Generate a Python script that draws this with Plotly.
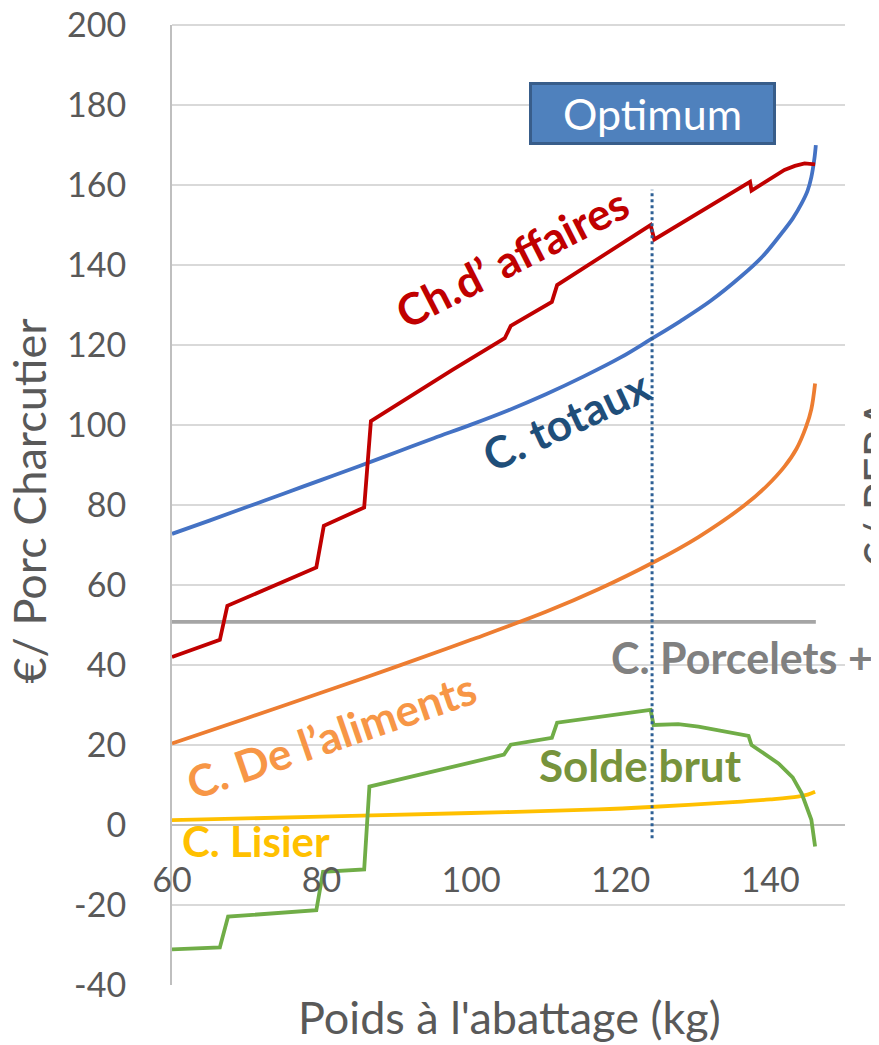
import plotly.graph_objects as go

# Chiffre d'affaires (€/porc)
x_ca = [60, 66.4, 67.4, 79.3, 80.3, 85.7, 86.6, 97.5, 104.5, 105.3, 110.8, 111.5,
        124.0, 124.5, 137.3, 137.5, 141.9, 143.3, 144.6, 146.0]
y_ca = [42.0, 46.3, 54.8, 64.4, 74.8, 79.4, 101.0, 113.8, 121.7, 124.8, 130.8, 135.0,
        150.0, 146.4, 160.8, 158.6, 163.8, 164.8, 165.4, 165.2]

# Coûts totaux
x_ct = [60, 65, 70, 75, 80, 85, 90, 95, 100, 105, 110, 115, 120, 124, 128, 132,
        136, 139, 141.5, 143, 144.2, 145, 145.5, 145.9, 146.1]
y_ct = [72.8, 76.1, 79.5, 82.9, 86.3, 89.7, 93.2, 96.7, 100.1, 103.7, 107.7, 112.1,
        116.9, 121.4, 126.0, 131.0, 137.0, 142.2, 147.9, 151.6, 155.4, 158.6, 162.0,
        166.5, 170.0]

# Coût de l'aliment
x_al = [60, 70, 81, 90, 100, 110, 117.1, 124.2, 130.4, 136.6, 139.5, 141.9,
        143.5, 144.8, 145.5, 146.0]
y_al = [20.4, 26.7, 33.75, 39.6, 46.3, 53.3, 59.0, 65.5, 72.0, 80.0, 84.7, 89.6,
        94.0, 99.6, 104.0, 110.4]

# Coût lisier
x_li = [60, 80, 100, 117, 124, 135, 140, 143.7, 145, 146]
y_li = [1.2, 2.1, 3.0, 3.9, 4.5, 5.7, 6.4, 7.1, 7.6, 8.3]

# Solde brut
x_sb = [60, 66.4, 67.5, 79.3, 80.2, 85.7, 86.4, 87.3, 98.4, 104.4, 105.3, 110.8,
        111.5, 124.0, 124.4, 127.7, 130.4, 137.1, 137.5, 141.1, 143.0, 144.2, 145.5, 146.0]
y_sb = [-31.1, -30.6, -22.9, -21.3, -11.7, -11.1, 9.6, 10.0, 15.0, 17.6, 20.1, 21.8,
        25.6, 28.8, 25.0, 25.2, 24.6, 22.3, 20.0, 15.4, 11.9, 7.9, 1.3, -5.4]

# Coût porcelets (constant)
x_pc = [60, 146.1]
y_pc = [50.8, 50.8]

# Optimum
x_opt = [124.2, 124.2]
y_opt = [-3.3, 158.8]

x_ticks = [60, 80, 100, 120, 140]
y_ticks = [-40, -20, 0, 20, 40, 60, 80, 100, 120, 140, 160, 180, 200]
y_ticktext = ["-40", "-20", "0", "20", "40", "60", "80", "100", "120", "140", "160", "180", "200"]

FONT = "Lato"
GREY_TXT = "#595959"

fig = go.Figure()

def line(x, y, color, width=3.8, dash="solid", shape="linear"):
    fig.add_trace(go.Scatter(x=x, y=y, mode="lines",
                             line=dict(color=color, width=width, dash=dash, shape=shape),
                             hoverinfo="skip"))

line(x_pc, y_pc, "#A5A5A5", 3.8)
line(x_li, y_li, "#FFC000", shape="spline")
line(x_al, y_al, "#ED7D31", shape="spline")
line(x_ct, y_ct, "#4472C4", shape="spline")
line(x_sb, y_sb, "#70AD47")
line(x_ca, y_ca, "#C00000")
line(x_opt, y_opt, "#2E6095", 3, "dot")

labels = [
    dict(text="<b>Ch.d’ affaires</b>", x=105.5, y=142, textangle=-27, color="#C00000", size=44),
    dict(text="<b>C. totaux</b>", x=112.7, y=101.3, textangle=-25, color="#1F4E79", size=44),
    dict(text="<b>C. De l’aliments</b>", x=81.3, y=22.5, textangle=-19, color="#F79646", size=44),
    dict(text="<b>C. Lisier</b>", x=71.2, y=-4, textangle=0, color="#FFC000", size=42),
    dict(text="<b>Solde brut</b>", x=122.7, y=15, textangle=0, color="#77933C", size=44),
]
for a in labels:
    fig.add_annotation(x=a["x"], y=a["y"], text=a["text"], showarrow=False,
                       textangle=a["textangle"], xanchor="center", yanchor="middle",
                       font=dict(family=FONT, size=a["size"], color=a["color"]))

fig.add_annotation(x=118.4, y=42, text="<b>C. Porcelets +</b>", showarrow=False,
                   xanchor="left", yanchor="middle",
                   font=dict(family=FONT, size=43, color="#808080"))

fig.add_annotation(x=124.2, y=177.9, text="Optimum", showarrow=False,
                   xanchor="center", yanchor="middle",
                   width=241, height=57, bgcolor="#4F81BD", bordercolor="#385D8A",
                   borderwidth=3, borderpad=0,
                   font=dict(family=FONT, size=43, color="white"))

# axis titles
fig.add_annotation(xref="paper", yref="paper", x=0.502, y=-0.0334,
                   xanchor="center", yanchor="middle",
                   text="Poids à l'abattage (kg)", showarrow=False,
                   font=dict(family=FONT, size=45, color=GREY_TXT))
fig.add_annotation(xref="paper", yref="paper", x=-0.212, y=0.505,
                   xanchor="center", yanchor="middle",
                   text="€/ Porc Charcutier", showarrow=False, textangle=-90,
                   font=dict(family=FONT, size=45, color=GREY_TXT))
fig.add_annotation(xref="paper", yref="paper", x=1.051, y=0.523,
                   xanchor="center", yanchor="middle",
                   text="€/ PERA", showarrow=False, textangle=-90,
                   font=dict(family=FONT, size=45, color=GREY_TXT))

# top gridline (plotly drops the one on the plot edge)
fig.add_shape(type="line", xref="paper", yref="paper", x0=0, x1=1, y0=1, y1=1,
              line=dict(color="#D9D9D9", width=2), layer="below")

# the page body adds an 8 px margin, so the figure is 8 px smaller than the window
fig.update_layout(
    width=871, height=1037,
    margin=dict(l=164, r=34, t=17, b=60, pad=0),
    plot_bgcolor="white", paper_bgcolor="white",
    showlegend=False,
    xaxis=dict(range=[60, 150], tickvals=x_ticks, automargin=False,
               showgrid=False, zeroline=False, showline=False,
               anchor="free", position=160 / 960, ticks="",
               ticklabelstandoff=32, ticklabeloverflow="allow",
               tickfont=dict(family=FONT, size=34, color=GREY_TXT)),
    yaxis=dict(range=[-40, 200.02], tickvals=y_ticks, ticktext=y_ticktext,
               automargin=False,
               gridcolor="#D9D9D9", gridwidth=2,
               zeroline=True, zerolinecolor="#BFBFBF", zerolinewidth=2,
               showline=True, linecolor="#BFBFBF", linewidth=2, ticks="",
               ticklabelstandoff=37, ticklabeloverflow="allow",
               tickfont=dict(family=FONT, size=34, color=GREY_TXT)),
)

fig.write_html("out.html")
